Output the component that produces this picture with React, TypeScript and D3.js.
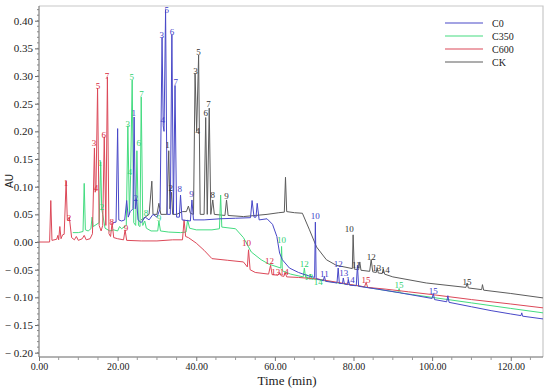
import React, { useEffect, useRef } from 'react';
import * as d3 from 'd3';

type Pt = [number, number];
type Lbl = [number, number, string];

// legend / series
const seriesNames = ['C0', 'C350', 'C600', 'CK'];
const seriesColors = ['#4848c8', '#44dc80', '#dc4858', '#5c5c5c'];
const labelColors = ['#3c3cc8', '#2ed070', '#d8283c', '#333333'];

// retention time (min), absorbance (AU)
const c0Points: Pt[] = [
  [18.8, 0.035], [19.6, 0.036], [20.0, 0.205], [20.3, 0.04], [21.0, 0.038], [21.8, 0.04], [22.3, 0.075],
  [22.7, 0.045], [23.2, 0.055], [23.9, 0.06], [24.2, 0.226], [24.5, 0.06], [24.8, 0.078], [25.2, 0.04],
  [26.0, 0.035], [27.0, 0.045], [28.0, 0.04], [29.0, 0.05], [30.0, 0.045], [30.8, 0.06], [31.3, 0.37],
  [31.6, 0.21], [31.8, 0.2], [32.2, 0.42], [32.6, 0.05], [33.4, 0.05], [33.8, 0.375], [34.2, 0.05],
  [34.6, 0.283], [35.0, 0.045], [35.7, 0.045], [36.0, 0.085], [36.4, 0.04], [38.5, 0.038], [38.9, 0.076],
  [39.3, 0.04], [42.0, 0.04], [46.0, 0.042], [50.0, 0.043], [53.8, 0.044], [54.2, 0.075], [54.7, 0.045],
  [55.2, 0.045], [55.5, 0.07], [56.0, 0.04], [58.0, 0.042], [59.4, 0.032], [60.5, 0.01], [61.2, -0.02],
  [61.9, -0.032], [63.7, -0.047], [66.0, -0.055], [68.0, -0.06], [70.1, -0.064], [70.3, 0.036], [70.5, -0.066],
  [72.3, -0.07], [72.6, -0.062], [72.9, -0.071], [75.8, -0.074], [76.1, -0.047], [76.4, -0.075], [77.2, -0.075],
  [77.4, -0.065], [77.7, -0.076], [78.5, -0.077], [78.7, -0.068], [79.0, -0.078], [80.7, -0.079], [81.0, -0.042],
  [81.3, -0.08], [86.0, -0.085], [92.0, -0.092], [100.0, -0.102], [100.3, -0.093], [100.6, -0.104],
  [103.7, -0.108], [104.0, -0.097], [104.3, -0.109], [110.0, -0.117], [115.0, -0.124], [120.0, -0.13],
  [122.6, -0.133], [122.8, -0.128], [123.0, -0.134], [128.2, -0.139],
];

const c350Points: Pt[] = [
  [8.6, 0.017], [10.0, 0.017], [11.2, 0.019], [11.5, 0.106], [11.8, 0.022], [12.5, 0.02], [13.2, 0.024],
  [13.5, 0.045], [13.8, 0.028], [15.3, 0.035], [15.7, 0.145], [15.95, 0.06], [16.2, 0.05], [16.8, 0.025],
  [18.0, 0.02], [19.0, 0.022], [20.0, 0.02], [20.5, 0.028], [21.0, 0.024], [22.2, 0.03], [22.6, 0.21],
  [23.0, 0.05], [23.3, 0.12], [23.7, 0.293], [24.1, 0.035], [24.6, 0.03], [24.9, 0.165], [25.3, 0.03],
  [25.7, 0.028], [26.0, 0.262], [26.4, 0.03], [26.9, 0.038], [27.3, 0.025], [28.5, 0.02], [30.2, 0.02],
  [30.5, 0.038], [30.9, 0.02], [33.0, 0.018], [36.0, 0.017], [37.4, 0.018], [37.8, 0.04], [38.3, 0.025],
  [40.0, 0.022], [44.0, 0.022], [45.9, 0.024], [46.2, 0.085], [46.5, 0.027], [50.0, 0.024], [52.0, 0.008],
  [54.0, -0.018], [56.5, -0.032], [58.5, -0.04], [61.5, -0.047], [61.7, -0.008], [61.9, -0.052],
  [64.0, -0.058], [67.2, -0.063], [67.5, -0.047], [67.8, -0.064], [68.8, -0.065], [69.0, -0.058],
  [69.3, -0.066], [71.0, -0.068], [76.0, -0.074], [81.0, -0.079], [86.0, -0.085], [91.3, -0.091],
  [91.6, -0.084], [91.9, -0.092], [95.0, -0.095], [100.0, -0.1], [110.0, -0.11], [120.0, -0.12], [128.2, -0.128],
];

const c600Points: Pt[] = [
  [0, 0], [2.7, 0], [3.0, 0.075], [3.3, 0.003], [4.5, 0.005], [4.8, 0.012], [5.0, 0.004], [5.3, 0.028],
  [5.6, 0.006], [6.0, 0.013], [6.4, 0.014], [6.9, 0.11], [7.2, 0.04], [7.7, 0.045], [8.3, 0.008], [9.0, 0.004],
  [9.5, 0.01], [10.0, 0.003], [11.0, 0.006], [11.5, 0.012], [12.0, 0.004], [13.0, 0.006], [13.6, 0.015],
  [14.1, 0.17], [14.3, 0.09], [14.5, 0.1], [14.9, 0.278], [15.3, 0.03], [15.8, 0.02], [16.2, 0.03],
  [16.6, 0.19], [17.0, 0.03], [17.4, 0.298], [17.8, 0.015], [18.2, 0.01], [18.6, 0.035], [19.0, 0.008],
  [20.0, 0.006], [21.5, 0.004], [21.9, 0.022], [22.3, 0.003], [26.0, 0.002], [30.0, 0.002], [34.0, 0.004],
  [36.5, 0.004], [36.9, 0.04], [37.3, 0.01], [38.0, 0.008], [40.0, -0.002], [42.0, -0.015], [44.0, -0.03],
  [48.0, -0.033], [52.0, -0.036], [53.0, -0.045], [53.3, -0.014], [53.7, -0.05], [55.0, -0.055],
  [58.4, -0.058], [58.9, -0.042], [59.3, -0.059], [60.8, -0.06], [61.2, -0.055], [61.6, -0.061],
  [62.3, -0.062], [62.6, -0.055], [63.0, -0.063], [66.0, -0.064], [71.0, -0.067], [76.0, -0.073],
  [82.8, -0.081], [83.2, -0.073], [83.6, -0.082], [88.0, -0.085], [94.0, -0.09], [100.0, -0.095],
  [110.0, -0.104], [120.0, -0.112], [128.2, -0.119],
];

const ckPoints: Pt[] = [
  [26.0, 0.04], [27.0, 0.045], [28.0, 0.05], [28.7, 0.11], [29.0, 0.05], [30.0, 0.05], [30.5, 0.07],
  [31.0, 0.05], [32.5, 0.05], [33.0, 0.165], [33.3, 0.06], [33.7, 0.09], [34.0, 0.05], [35.0, 0.05],
  [36.5, 0.055], [37.5, 0.055], [38.0, 0.065], [38.5, 0.052], [39.3, 0.05], [39.7, 0.305], [40.1, 0.2],
  [40.6, 0.338], [41.0, 0.05], [42.0, 0.05], [42.4, 0.225], [42.8, 0.05], [43.3, 0.242], [43.7, 0.05],
  [44.2, 0.076], [44.6, 0.05], [47.3, 0.048], [47.7, 0.076], [48.1, 0.048], [52.0, 0.046], [55.0, 0.048],
  [58.0, 0.05], [61.0, 0.053], [62.4, 0.054], [62.7, 0.117], [63.0, 0.055], [65.0, 0.053], [67.0, 0.052],
  [68.8, 0.022], [70.6, -0.009], [73.1, -0.032], [75.6, -0.042], [79.7, -0.048], [79.9, 0.013],
  [80.2, -0.049], [81.3, -0.05], [81.6, -0.036], [81.9, -0.051], [84.1, -0.053], [84.5, -0.032],
  [84.9, -0.054], [85.8, -0.055], [86.0, -0.046], [86.3, -0.056], [87.3, -0.057], [87.6, -0.049],
  [87.9, -0.058], [90.0, -0.063], [98.5, -0.074], [108.6, -0.082], [108.9, -0.074], [109.2, -0.083],
  [112.6, -0.086], [112.8, -0.077], [113.1, -0.087], [120.0, -0.093], [128.2, -0.101],
];

// peak numbers: time, AU, text
const c0Labels: Lbl[] = [
  [24.1, 0.233, '1'], [24.6, 0.079, '2'], [31.2, 0.374, '3'], [31.5, 0.22, '4'], [32.5, 0.42, '5'],
  [33.8, 0.379, '6'], [34.8, 0.289, '7'], [35.8, 0.096, '8'], [38.8, 0.087, '9'], [70.3, 0.047, '10'],
  [72.6, -0.058, '11'], [76.1, -0.04, '12'], [77.5, -0.056, '13'], [79.2, -0.068, '14'], [100.3, -0.088, '15'],
];
const c350Labels: Lbl[] = [
  [15.5, 0.143, '1'], [16.0, 0.063, '2'], [22.6, 0.213, '3'], [23.1, 0.126, '4'], [23.6, 0.298, '5'],
  [25.4, 0.179, '6'], [26.1, 0.267, '7'], [27.2, 0.052, '8'], [30.5, 0.043, '9'], [61.7, 0.004, '10'],
  [67.5, -0.04, '12'], [68.6, -0.063, '13'], [71.0, -0.072, '14'], [91.6, -0.078, '15'],
];
const c600Labels: Lbl[] = [
  [6.85, 0.106, '1'], [7.6, 0.043, '2'], [14.0, 0.179, '3'], [14.5, 0.097, '4'], [15.0, 0.282, '5'],
  [16.5, 0.193, '6'], [17.3, 0.3, '7'], [18.5, 0.036, '8'], [22.1, 0.025, '9'], [52.8, -0.002, '10'],
  [58.6, -0.034, '12'], [60.2, -0.054, '13'], [62.4, -0.054, '14'], [83.2, -0.068, '15'],
];
const ckLabels: Lbl[] = [
  [32.7, 0.175, '1'], [33.5, 0.097, '2'], [39.8, 0.31, '3'], [40.4, 0.2, '4'], [40.6, 0.343, '5'],
  [42.4, 0.233, '6'], [43.1, 0.249, '7'], [44.2, 0.085, '8'], [47.7, 0.083, '9'], [78.9, 0.023, '10'],
  [80.7, -0.042, '11'], [84.5, -0.027, '12'], [85.9, -0.047, '13'], [88.1, -0.05, '14'], [108.9, -0.072, '15'],
];

const xTicks = [0, 20, 40, 60, 80, 100, 120];
const yTicks = [-0.2, -0.15, -0.1, -0.05, 0, 0.05, 0.1, 0.15, 0.2, 0.25, 0.3, 0.35, 0.4];

const serif = 'Liberation Serif';
const sans = 'Liberation Sans';

export default function App() {
  const svgRef = useRef<SVGSVGElement>(null);

  useEffect(() => {
    if (!svgRef.current) return;
    const svg = d3.select(svgRef.current);
    svg.selectAll('*').remove();

    const left = 39, right = 543, top = 6, bottom = 357;
    const x = d3.scaleLinear().domain([0, 128.2]).range([left, right]);
    const y = d3.scaleLinear().domain([-0.2078, 0.4266]).range([bottom, top]);

    svg.append('rect').attr('width', 550).attr('height', 388).attr('fill', '#fff');

    // frame
    svg.append('path')
      .attr('d', `M${left},${top}H${right}V${bottom}`)
      .attr('fill', 'none').attr('stroke', '#c8c8c8').attr('stroke-width', 1.2);

    svg.append('defs').append('clipPath').attr('id', 'plot')
      .append('rect').attr('x', left).attr('y', top - 2).attr('width', right - left).attr('height', bottom - top + 2);

    // traces
    const line = d3.line<Pt>().x(d => x(d[0])).y(d => y(d[1]));
    const traces = [ckPoints, c350Points, c600Points, c0Points];
    const traceIdx = [3, 1, 2, 0];
    const g = svg.append('g').attr('clip-path', 'url(#plot)');
    traces.forEach((pts, i) => {
      g.append('path')
        .datum(pts)
        .attr('d', line)
        .attr('fill', 'none')
        .attr('stroke', seriesColors[traceIdx[i]])
        .attr('stroke-width', 1)
        .attr('stroke-linejoin', 'round');
    });

    // peak numbers
    const labelSets = [c0Labels, c350Labels, c600Labels, ckLabels];
    labelSets.forEach((set, i) => {
      svg.append('g').selectAll('text').data(set).enter().append('text')
        .attr('x', d => x(d[0]))
        .attr('y', d => y(d[1]) + 3)
        .attr('text-anchor', 'middle')
        .attr('font-family', serif)
        .attr('font-size', 9)
        .attr('fill', labelColors[i])
        .text(d => d[2]);
    });

    // y axis
    const yAxis = svg.append('g').attr('transform', `translate(${left},0)`)
      .call(d3.axisLeft(y).tickValues(yTicks).tickSize(4).tickPadding(2)
        .tickFormat(d => {
          const v = +d;
          return v < -1e-9 ? '\u2212 ' + Math.abs(v).toFixed(2) : Math.abs(v).toFixed(2);
        }));
    yAxis.attr('font-family', serif).attr('font-size', 11);
    yAxis.select('.domain').attr('d', `M0,${top}V${bottom}`).attr('stroke', '#666');
    yAxis.selectAll('.tick line').attr('stroke', '#666');
    yAxis.selectAll('text').attr('fill', '#222');
    const yMinor = d3.range(-0.2, 0.4201, 0.01);
    svg.append('g').selectAll('line').data(yMinor).enter().append('line')
      .attr('x1', left - 2).attr('x2', left)
      .attr('y1', d => y(d)).attr('y2', d => y(d))
      .attr('stroke', '#888');

    // x axis
    const xAxis = svg.append('g').attr('transform', `translate(0,${bottom})`)
      .call(d3.axisBottom(x).tickValues(xTicks).tickSize(4).tickPadding(2)
        .tickFormat(d => (+d).toFixed(2)));
    xAxis.attr('font-family', serif).attr('font-size', 10);
    xAxis.select('.domain').attr('d', `M${left},0H${right}`).attr('stroke', '#666');
    xAxis.selectAll('.tick line').attr('stroke', '#777');
    xAxis.selectAll('text').attr('fill', '#222');
    const xMinor = d3.range(5, 128, 5).filter(v => v % 20 !== 0);
    svg.append('g').selectAll('line').data(xMinor).enter().append('line')
      .attr('x1', d => x(d)).attr('x2', d => x(d))
      .attr('y1', bottom).attr('y2', bottom + 3)
      .attr('stroke', '#999');

    // axis titles
    svg.append('text')
      .attr('x', 287).attr('y', 385)
      .attr('text-anchor', 'middle')
      .attr('font-family', serif).attr('font-size', 13).attr('fill', '#222')
      .text('Time (min)');
    svg.append('text')
      .attr('transform', 'translate(13,181) rotate(-90)')
      .attr('text-anchor', 'middle')
      .attr('font-family', sans).attr('font-size', 10).attr('fill', '#222')
      .text('AU');

    // legend
    const lg = svg.append('g');
    seriesNames.forEach((name, i) => {
      const ly = 23 + i * 13;
      lg.append('line').attr('x1', 445).attr('x2', 483).attr('y1', ly).attr('y2', ly)
        .attr('stroke', seriesColors[i]).attr('stroke-width', 1.2);
      lg.append('text').attr('x', 492).attr('y', ly + 3.5)
        .attr('font-family', serif).attr('font-size', 10).attr('fill', '#222')
        .text(name);
    });
  }, []);

  return (
    <svg ref={svgRef} width={550} height={388}
      style={{ position: 'absolute', left: 0, top: 0, display: 'block' }} />
  );
}
